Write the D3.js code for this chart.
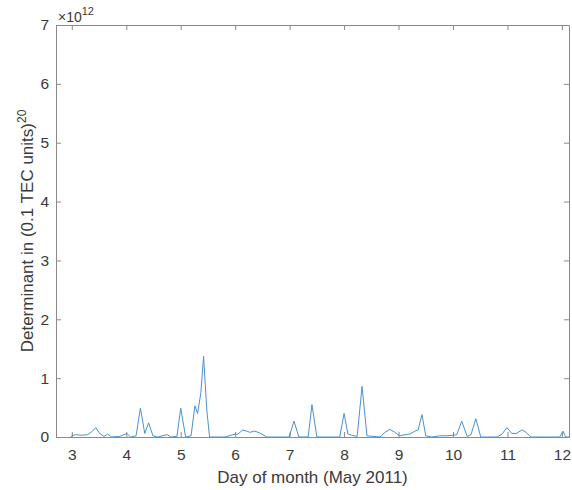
<!DOCTYPE html>
<html><head><meta charset="utf-8">
<script src="https://cdn.jsdelivr.net/npm/d3@7/dist/d3.min.js"></script>
<style>body{margin:0;background:#fff}svg{display:block}text{font-family:"Liberation Sans",Arial,sans-serif}</style>
</head><body>
<script>
const days = [2.98,3.00,3.07,3.18,3.29,3.37,3.44,3.51,3.59,3.66,3.73,3.88,4.01,4.08,4.18,4.26,4.34,4.41,4.49,4.58,4.75,4.82,4.93,5.00,5.09,5.19,5.26,5.31,5.37,5.42,5.48,5.53,5.81,5.96,6.05,6.14,6.21,6.27,6.36,6.45,6.58,6.99,7.08,7.17,7.34,7.41,7.50,7.92,8.00,8.07,8.14,8.24,8.33,8.42,8.66,8.75,8.84,8.93,9.02,9.12,9.21,9.30,9.36,9.43,9.50,9.61,9.76,9.89,10.00,10.07,10.16,10.26,10.33,10.42,10.51,10.81,10.90,10.99,11.08,11.16,11.27,11.34,11.43,11.96,12.02,12.07,12.13];
const values = [0.00,0.02,0.04,0.03,0.04,0.09,0.16,0.06,0.01,0.05,0.00,0.01,0.06,0.00,0.02,0.49,0.06,0.24,0.02,0.00,0.04,0.00,0.01,0.49,0.00,0.02,0.53,0.40,0.75,1.37,0.45,0.00,0.00,0.04,0.05,0.12,0.10,0.08,0.10,0.07,0.00,0.00,0.27,0.00,0.00,0.55,0.00,0.00,0.40,0.05,0.03,0.01,0.86,0.02,0.00,0.08,0.13,0.08,0.02,0.04,0.05,0.10,0.12,0.38,0.02,0.00,0.02,0.02,0.03,0.04,0.27,0.01,0.04,0.31,0.00,0.00,0.05,0.16,0.06,0.06,0.12,0.08,0.00,0.00,0.10,0.00,0.00];
const xTicks = [3,4,5,6,7,8,9,10,11,12];
const yTicks = [0,1,2,3,4,5,6,7];
const xLabel = "Day of month (May 2011)";
const yLabelMain = "Determinant in (0.1 TEC units)";
const yLabelSup = "20";

const W = 572, H = 490;
const L = 56, R = 569, T = 25, B = 437;
const svg = d3.select("body").append("svg").attr("width", W).attr("height", H);
const x = d3.scaleLinear().domain([2.71, 12.13]).range([L, R]);
const y = d3.scaleLinear().domain([0, 7]).range([B, T]);
const axisCol = "#8a8a8a", textCol = "#3a3a3a";

function style(g){
  g.select(".domain").attr("stroke", axisCol);
  g.selectAll(".tick line").attr("stroke", axisCol);
  g.selectAll(".tick text").attr("fill", textCol).attr("font-size", 15.5);
}
svg.append("g").attr("transform", `translate(0,${B})`)
  .call(d3.axisBottom(x).tickValues(xTicks).tickSizeInner(-5).tickSizeOuter(0).tickPadding(12).tickFormat(d3.format("d")))
  .call(style);
svg.append("g").attr("transform", `translate(0,${T})`)
  .call(d3.axisTop(x).tickValues(xTicks).tickSizeInner(-5).tickSizeOuter(0).tickFormat(""))
  .call(style);
svg.append("g").attr("transform", `translate(${L},0)`)
  .call(d3.axisLeft(y).tickValues(yTicks).tickSizeInner(-5).tickSizeOuter(0).tickPadding(7).tickFormat(d3.format("d")))
  .call(style);
svg.append("g").attr("transform", `translate(${R},0)`)
  .call(d3.axisRight(y).tickValues(yTicks).tickSizeInner(-5).tickSizeOuter(0).tickFormat(""))
  .call(style);

const line = d3.line().x((d,i)=>x(days[i])).y(d=>y(d));
svg.append("path").datum(values).attr("d", line)
  .attr("fill","none").attr("stroke","#4a92cf").attr("stroke-width",1);

// exponent
const ex = svg.append("text").attr("x", L+2).attr("y", 22).attr("fill", textCol).attr("font-size", 14);
ex.append("tspan").text("\u00d710");
ex.append("tspan").attr("dy", -7).attr("font-size", 11).text("12");

svg.append("text").attr("x", (L+R)/2).attr("y", 483).attr("text-anchor","middle")
  .attr("fill", textCol).attr("font-size", 17).text(xLabel);

const yl = svg.append("text").attr("transform", `translate(33,${(T+B)/2}) rotate(-90)`)
  .attr("text-anchor","middle").attr("fill", textCol).attr("font-size", 17);
yl.append("tspan").text(yLabelMain);
yl.append("tspan").attr("dy", -7).attr("font-size", 12).text(yLabelSup);
</script>
</body></html>
